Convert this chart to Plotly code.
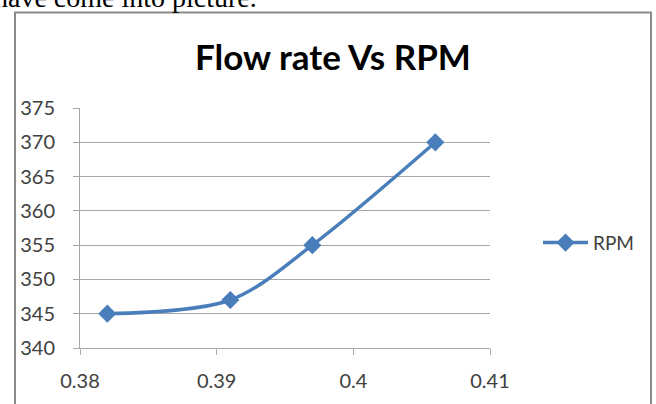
import plotly.graph_objects as go

# Data
flow_rate = [0.382, 0.391, 0.397, 0.406]
rpm = [345, 347, 355, 370]
series_name = "RPM"
title_text = "Flow rate Vs RPM"
above_text = "have come into picture."
x_ticks = [0.38, 0.39, 0.40, 0.41]
x_tick_labels = ["0.38", "0.39", "0.4", "0.41"]
y_ticks = [340, 345, 350, 355, 360, 365, 370, 375]

W, H = 656, 404
ML, MR, MT, MB = 80, 166, 108, 52
PW, PH = W - ML - MR, H - MT - MB


def px_x(p):
    return (p - ML) / PW


def px_y(p):
    return (H - MB - p) / PH


blue = "#4a7ebb"
grid = "#a6a6a6"
txt = "#404040"
font_family = "Lato, 'Open Sans', sans-serif"

fig = go.Figure()
fig.add_trace(go.Scatter(
    x=flow_rate, y=rpm, name=series_name, mode="lines+markers",
    line=dict(color=blue, width=3.5, shape="spline", smoothing=0.9),
    marker=dict(symbol="diamond", size=14, color=blue),
))

fig.update_layout(
    width=W, height=H,
    margin=dict(l=ML, r=MR, t=MT, b=MB),
    paper_bgcolor="white", plot_bgcolor="white",
    showlegend=True,
    legend=dict(
        x=px_x(538), y=px_y(245), xanchor="left", yanchor="middle",
        itemwidth=45,
        font=dict(family=font_family, size=19, color=txt),
        bgcolor="rgba(0,0,0,0)",
    ),
    xaxis=dict(
        range=[0.38, 0.41], tickvals=x_ticks, ticktext=x_tick_labels,
        showgrid=False, zeroline=False,
        showline=True, linecolor=grid, linewidth=1,
        ticks="outside", ticklen=6, tickcolor=grid,
        tickfont=dict(family=font_family, size=20, color=txt),
        ticklabelstandoff=9,
    ),
    yaxis=dict(
        range=[340, 375], tickvals=y_ticks,
        showgrid=True, gridcolor=grid, gridwidth=1, zeroline=False,
        showline=True, linecolor=grid, linewidth=1,
        ticks="outside", ticklen=6, tickcolor=grid,
        tickfont=dict(family=font_family, size=20, color=txt),
        ticklabelstandoff=14,
    ),
    shapes=[dict(
        type="rect", xref="paper", yref="paper",
        x0=px_x(15), x1=px_x(651), y0=px_y(440), y1=px_y(11),
        line=dict(color="#8a8a8a", width=2), fillcolor="rgba(0,0,0,0)",
        layer="below",
    )],
    annotations=[
        dict(
            text="<b>" + title_text + "</b>", xref="paper", yref="paper",
            x=px_x(333), y=px_y(55), xanchor="center", yanchor="middle",
            showarrow=False,
            font=dict(family=font_family, size=35, color="#000000"),
        ),
        dict(
            text=above_text, xref="paper", yref="paper",
            x=px_x(-8), y=px_y(13), xanchor="left", yanchor="bottom",
            showarrow=False,
            font=dict(family="'Liberation Serif', serif", size=28, color="#000000"),
        ),
    ],
)

fig.write_html("out.html")
